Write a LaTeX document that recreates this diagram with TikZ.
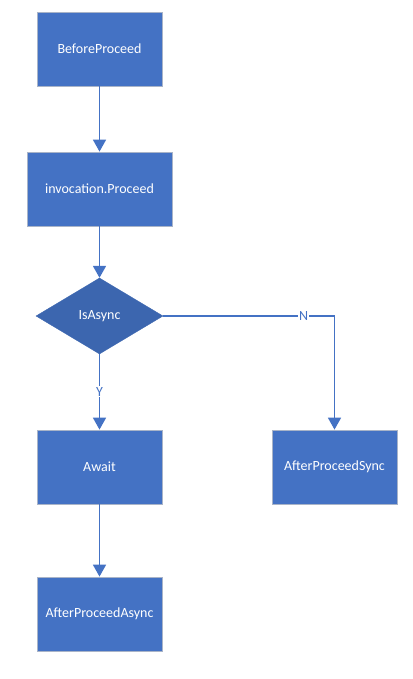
\documentclass[tikz,border=0pt]{standalone}
\usepackage{fontspec}
\setmainfont{Carlito}
\usetikzlibrary{shapes.geometric,arrows.meta}
\definecolor{boxblue}{HTML}{4472C4}
\definecolor{darkblue}{HTML}{3C66AF}
\definecolor{edgegray}{HTML}{A9B4C8}
\tikzset{
  stepbox/.style={rectangle,draw=edgegray,line width=0.8pt,fill=boxblue,text=white,minimum width=125pt,minimum height=74pt,inner sep=0pt},
  choice/.style={diamond,draw=darkblue,fill=darkblue,text=white,minimum width=127pt,minimum height=76pt,inner sep=0pt,aspect=1.67},
  flow/.style={draw=boxblue,line width=1.8pt,-{Triangle[width=13pt,length=12pt]}},
  tag/.style={fill=white,text=boxblue,inner sep=1pt}
}
\begin{document}
\begin{tikzpicture}[x=1pt,y=-1pt]
                    \useasboundingbox (0,0) rectangle (412,679);
                    \fontsize{14pt}{16pt}\selectfont
                    \node[stepbox] (before) at (99.5,49) {BeforeProceed};
                    \node[stepbox,minimum width=145pt] (proceed) at (99.5,189) {invocation.Proceed};
                    \node[choice] (isasync) at (99.5,316) {IsAsync};
                    \node[stepbox] (await) at (99.5,467) {Await};
                    \node[stepbox] (afterasync) at (99.5,614) {AfterProceedAsync};
                    \node[stepbox] (aftersync) at (334.5,467) {AfterProceedSync};

                    \draw [flow] (before) -- (proceed);
                    \draw [flow] (proceed) -- (isasync);
                    \draw [flow] (isasync) -- node[tag]{Y} (await);
                    \draw [flow] (isasync.east) -| node[tag,pos=0.41]{N} (aftersync);
                    \draw [flow] (await) -- (afterasync);
                \end{tikzpicture}
\end{document}
